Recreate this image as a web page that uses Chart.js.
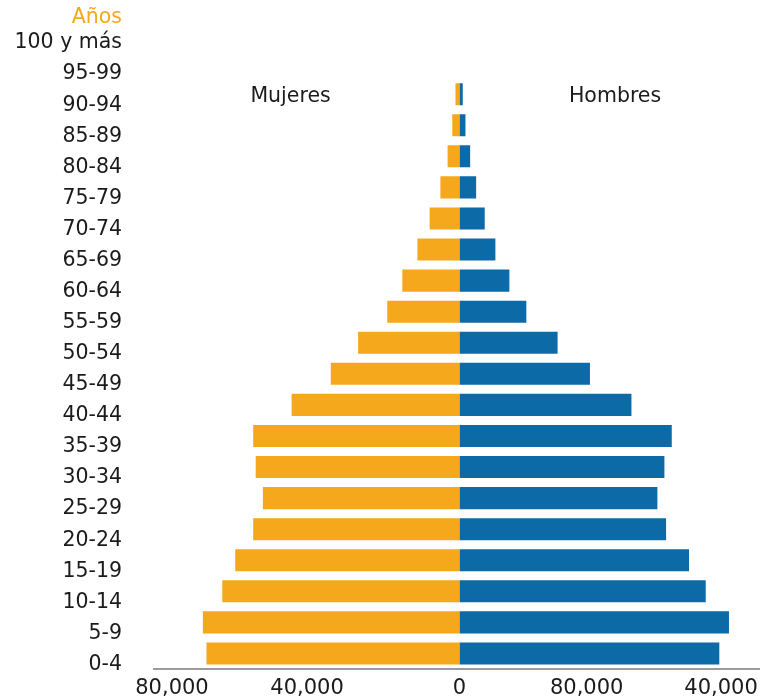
<!DOCTYPE html>
<html>
<head>
<meta charset="utf-8">
<script src="https://cdn.jsdelivr.net/npm/chart.js@4/dist/chart.umd.min.js"></script>
<style>
  html, body { margin: 0; padding: 0; background: #fff; }
</style>
</head>
<body>
<canvas id="pyramid" width="765" height="699"></canvas>
<script>
// Data (top row first)
const ageGroups = ["100 y más", "95-99", "90-94", "85-89", "80-84", "75-79", "70-74", "65-69", "60-64",
  "55-59", "50-54", "45-49", "40-44", "35-39", "30-34", "25-29", "20-24", "15-19", "10-14", "5-9", "0-4"];
const mujeres = [0, 0, 1100, 2000, 3300, 5300, 8300, 11700, 15900, 20100, 28200, 35800, 46700,
  57400, 56700, 54700, 57400, 62400, 66000, 71400, 70400];
const hombres = [0, 0, 920, 1670, 2970, 4640, 7030, 10000, 13890, 18610, 27310, 36310, 47860,
  59080, 57030, 55080, 57500, 63890, 68530, 75000, 72310];
const tickValues = [-80000, -42400, 0, 35400, 72800];
const tickLabels = ["80,000", "40,000", "0", "80,000", "40,000"];

const ORANGE = "#F5A81C";
const BLUE = "#0C6AA7";
const FONT = "'DejaVu Sans', sans-serif";

// Extra labels: "Años", "Mujeres", "Hombres"
const labelsPlugin = {
  id: "extraLabels",
  afterDraw(chart) {
    const ctx = chart.ctx;
    const x = chart.scales.x;
    const y = chart.scales.y;
    ctx.save();
    ctx.font = "20.5px " + FONT;
    ctx.textBaseline = "middle";
    ctx.fillStyle = ORANGE;
    ctx.textAlign = "right";
    ctx.fillText("Años", y.right - 32, y.getPixelForValue(0) - 14);
    ctx.fillStyle = "#1b1b1b";
    ctx.textAlign = "center";
    const ly = y.getPixelForValue(2) + 2;
    ctx.fillText("Mujeres", x.getPixelForValue(-47000), ly);
    ctx.fillText("Hombres", x.getPixelForValue(43300), ly);
    ctx.restore();
  }
};

const ctx = document.getElementById("pyramid").getContext("2d");
new Chart(ctx, {
  type: "bar",
  data: {
    labels: ageGroups,
    datasets: [
      { label: "Mujeres", data: mujeres.map(v => -v), backgroundColor: ORANGE },
      { label: "Hombres", data: hombres, backgroundColor: BLUE }
    ]
  },
  options: {
    indexAxis: "y",
    responsive: false,
    animation: false,
    barPercentage: 0.71,
    categoryPercentage: 1.0,
    layout: { padding: { top: 16.5, right: 3, bottom: 0, left: 0 } },
    plugins: {
      legend: { display: false },
      tooltip: { enabled: false }
    },
    scales: {
      x: {
        stacked: true,
        min: -85000,
        max: 83600,
        grid: { display: false, drawTicks: false },
        border: { display: true, color: "#9b9b9b", width: 2 },
        afterBuildTicks: scale => {
          scale.ticks = tickValues.map(v => ({ value: v }));
        },
        afterFit: scale => { scale.height = 30; },
        ticks: {
          autoSkip: false,
          maxRotation: 0,
          padding: 7,
          color: "#1b1b1b",
          font: { family: FONT, size: 21 },
          callback: (value, index) => tickLabels[index]
        }
      },
      y: {
        stacked: true,
        offset: true,
        grid: { display: false, drawTicks: false },
        border: { display: false },
        afterFit: scale => {
          scale.width = 154;
          scale.paddingTop = 0;
          scale.paddingBottom = 0;
        },
        ticks: {
          padding: 32,
          labelOffset: 11,
          autoSkip: false,
          color: "#1b1b1b",
          font: { family: FONT, size: 20.5 }
        }
      }
    }
  },
  plugins: [labelsPlugin]
});
</script>
</body>
</html>
